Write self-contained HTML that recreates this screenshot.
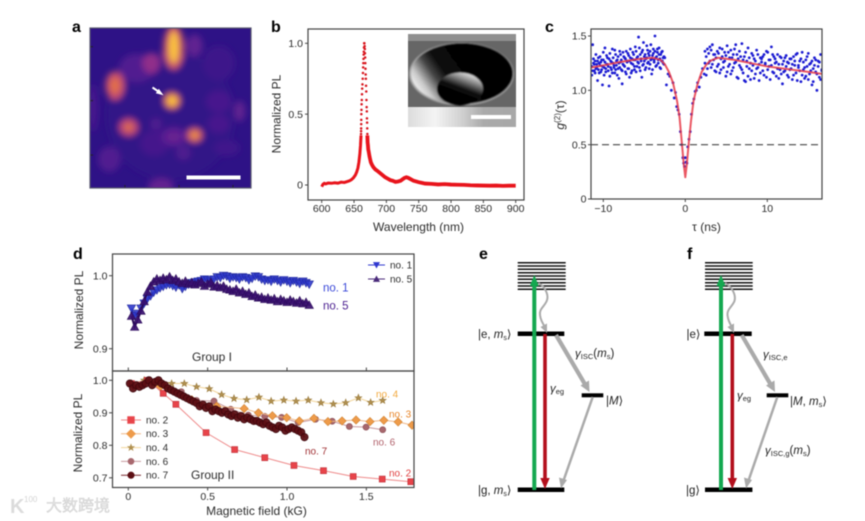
<!DOCTYPE html>
<html lang="en">
<head>
<meta charset="utf-8">
<title>Figure</title>
<style>
html,body{margin:0;padding:0;background:#fff;width:865px;height:521px;overflow:hidden}
svg{display:block;filter:blur(0.45px)}
text{font-family:"Liberation Sans","Noto Sans CJK SC",sans-serif;fill:#2c2c2c}
.tick{font-size:10.5px}
.title{font-size:12px}
.letter{font-size:16px;font-weight:bold;fill:#000}
.lvl{font-size:11.5px;fill:#222}
.it{font-style:italic}
.frame{fill:none;stroke:#444;stroke-width:1.2}
</style>
</head>
<body>
<svg id="figure" xmlns="http://www.w3.org/2000/svg" width="865" height="521" viewBox="0 0 865 521">
<defs>
<clipPath id="clipA"><rect x="90" y="28" width="161" height="160"/></clipPath>
<clipPath id="clipC"><rect x="591" y="29" width="231" height="170"/></clipPath>
<clipPath id="clipD"><rect x="112" y="254" width="302" height="233"/></clipPath>
<clipPath id="clipInset"><rect x="408" y="34" width="108" height="93"/></clipPath>
<filter id="heatBlur" x="-50%" y="-50%" width="200%" height="200%"><feGaussianBlur stdDeviation="3.2"/></filter>
<filter id="insetBlur" x="-20%" y="-20%" width="140%" height="140%"><feGaussianBlur stdDeviation="0.9"/></filter>
<linearGradient id="holeGrad" x1="0" y1="0.72" x2="1" y2="0.3">
<stop offset="0" stop-color="#ffffff"/><stop offset="0.12" stop-color="#c8c8c8"/><stop offset="0.26" stop-color="#454545"/><stop offset="0.38" stop-color="#080808"/><stop offset="1" stop-color="#000"/>
</linearGradient>
<linearGradient id="domeGrad" x1="0.72" y1="0" x2="0.4" y2="0.62">
<stop offset="0" stop-color="#f0f0f0"/><stop offset="0.35" stop-color="#8a8a8a"/><stop offset="0.75" stop-color="#0c0c0c"/><stop offset="1" stop-color="#030303"/>
</linearGradient>
<linearGradient id="stripGrad" x1="0" y1="0" x2="1" y2="0">
<stop offset="0" stop-color="#dcdcdc"/><stop offset="0.25" stop-color="#f4f4f4"/><stop offset="0.5" stop-color="#d0d0d0"/><stop offset="0.7" stop-color="#aaa"/><stop offset="1" stop-color="#a8a8a8"/>
</linearGradient>
</defs>

<!-- Panel letters -->
<text class="letter" x="72" y="32">a</text>
<text class="letter" x="271" y="32">b</text>
<text class="letter" x="545" y="32">c</text>
<text class="letter" x="73" y="259">d</text>
<text class="letter" x="479" y="259">e</text>
<text class="letter" x="687" y="259">f</text>

<!-- Panel a -->
<g>
<rect x="90" y="28" width="161" height="160" fill="#2e1286"/>
<g id="heatLayer" clip-path="url(#clipA)" filter="url(#heatBlur)"></g>
<g id="heatTicks"></g>
<rect class="frame" x="90" y="28" width="161" height="160" style="stroke:#5a5a70"/>
<line x1="152.5" y1="87.5" x2="160" y2="92.6" stroke="#fff" stroke-width="2"/>
<polygon points="163.5,95.3 155.8,93.2 158.8,88.8" fill="#fff"/>
<rect x="186.5" y="175.5" width="54" height="4" fill="#fff"/>
</g>

<!-- Panel b -->
<g>
<rect class="frame" x="308" y="29" width="216" height="171"/>
<g id="specAxes"></g>
<g id="specMarks"></g>
<g clip-path="url(#clipInset)">
<rect x="408" y="34" width="108" height="93" fill="#666"/>
<rect x="408" y="34" width="108" height="7" fill="#909090"/>
<g filter="url(#insetBlur)">
<ellipse cx="461.5" cy="74" rx="52.5" ry="31.5" fill="#a8a8a8"/>
<ellipse cx="462" cy="73.5" rx="51" ry="30.5" fill="url(#holeGrad)"/>
<ellipse cx="460" cy="89" rx="23" ry="16.5" fill="url(#domeGrad)"/>
</g>
<rect x="408" y="107" width="108" height="20" fill="url(#stripGrad)"/>
<rect x="471" y="115" width="40" height="4" fill="#fff"/>
</g>
<text class="title" x="418.5" y="231" text-anchor="middle">Wavelength (nm)</text>
<text class="title" text-anchor="middle" transform="translate(280.5,114) rotate(-90)">Normalized PL</text>
</g>

<!-- Panel c -->
<g>
<g id="g2Marks" clip-path="url(#clipC)"></g>
<rect class="frame" x="591" y="29" width="231" height="170"/>
<g id="g2Axes"></g>
<text class="title" x="706.5" y="231" text-anchor="middle">τ (ns)</text>
<text class="title" text-anchor="middle" transform="translate(564,115) rotate(-90)"><tspan class="it">g</tspan><tspan font-size="8" dy="-4">(2)</tspan><tspan dy="4">(τ)</tspan></text>
</g>

<!-- Panel d -->
<g>
<g id="fieldMarks" clip-path="url(#clipD)"></g>
<rect class="frame" x="112.5" y="254" width="301.5" height="117"/>
<rect class="frame" x="112.5" y="371" width="301.5" height="116.5"/>
<g id="fieldAxes"></g>
<text class="title" text-anchor="middle" transform="translate(83,310) rotate(-90)">Normalized PL</text>
<text class="title" text-anchor="middle" transform="translate(82,433) rotate(-90)">Normalized PL</text>
<text class="title" x="256.5" y="515" text-anchor="middle">Magnetic field (kG)</text>
<text x="192" y="361" font-size="12">Group I</text>
<text x="191" y="479" font-size="12">Group II</text>
<text x="323" y="291.5" font-size="11.5" style="fill:#3a48d8">no. 1</text>
<text x="323" y="309.5" font-size="11.5" style="fill:#4b1f90">no. 5</text>
<text x="376" y="397.5" font-size="10" style="fill:#f2a83c">no. 4</text>
<text x="389" y="417.5" font-size="10" style="fill:#e8862a">no. 3</text>
<text x="373" y="445.5" font-size="10" style="fill:#b0606a">no. 6</text>
<text x="305" y="454.5" font-size="10" style="fill:#a03034">no. 7</text>
<text x="389" y="476.5" font-size="10" style="fill:#e04040">no. 2</text>
<g id="fieldLegend"></g>
</g>

<!-- Panel e -->
<g>
<g stroke="#111" stroke-width="1.5">
<line x1="517.7" x2="565.7" y1="262.7" y2="262.7"/><line x1="517.7" x2="565.7" y1="266" y2="266"/><line x1="517.7" x2="565.7" y1="269.3" y2="269.3"/><line x1="517.7" x2="565.7" y1="272.7" y2="272.7"/><line x1="517.7" x2="565.7" y1="276" y2="276"/><line x1="517.7" x2="565.7" y1="279.3" y2="279.3"/><line x1="517.7" x2="565.7" y1="282.7" y2="282.7"/><line x1="517.7" x2="565.7" y1="286" y2="286"/><line x1="517.7" x2="565.7" y1="289.3" y2="289.3"/>
</g>
<rect x="517.7" y="331.5" width="46.6" height="4.5" fill="#000"/>
<rect x="517.7" y="487.5" width="46.6" height="4.5" fill="#000"/>
<rect x="581.7" y="393.3" width="21.6" height="4" fill="#000"/>
<line x1="534.3" y1="490" x2="534.3" y2="284" stroke="#14a850" stroke-width="4"/>
<polygon points="534.3,275 529.8,286 538.8,286" fill="#14a850"/>
<line x1="545" y1="334" x2="545" y2="480" stroke="#b30f1c" stroke-width="3.6"/>
<polygon points="545,489 540.3,478 549.7,478" fill="#b30f1c"/>
<path d="M538.3,283 C546,287 549,296 546.7,301 C544,307 539,309 540,315 C540.5,320 543,324 545,327" fill="none" stroke="#aaa" stroke-width="2"/>
<polygon points="547,333 540.5,327 547,323.5" fill="#aaa"/>
<line x1="556" y1="335" x2="586" y2="386" stroke="#aaa" stroke-width="4.2"/>
<polygon points="589.5,392 580.5,385.5 589,380.5" fill="#aaa"/>
<line x1="592.7" y1="397" x2="563" y2="482" stroke="#aaa" stroke-width="2.5"/>
<polygon points="561,488.5 559,477.5 567,480" fill="#aaa"/>
<text class="lvl" x="478" y="338">|e, <tspan class="it">m</tspan><tspan font-size="7" dy="2">s</tspan><tspan dy="-2">⟩</tspan></text>
<text class="lvl" x="478" y="494">|g, <tspan class="it">m</tspan><tspan font-size="7" dy="2">s</tspan><tspan dy="-2">⟩</tspan></text>
<text class="lvl" x="606" y="404.5">|<tspan class="it">M</tspan>⟩</text>
<text class="lvl" x="575" y="357"><tspan class="it">γ</tspan><tspan font-size="7.5" dy="2">ISC</tspan><tspan dy="-2">(</tspan><tspan class="it">m</tspan><tspan font-size="7.5" dy="2">s</tspan><tspan dy="-2">)</tspan></text>
<text class="lvl" x="550" y="392"><tspan class="it">γ</tspan><tspan font-size="7.5" dy="2">eg</tspan></text>
</g>

<!-- Panel f -->
<g>
<g stroke="#111" stroke-width="1.5">
<line x1="705" x2="752.7" y1="262.7" y2="262.7"/><line x1="705" x2="752.7" y1="266" y2="266"/><line x1="705" x2="752.7" y1="269.3" y2="269.3"/><line x1="705" x2="752.7" y1="272.7" y2="272.7"/><line x1="705" x2="752.7" y1="276" y2="276"/><line x1="705" x2="752.7" y1="279.3" y2="279.3"/><line x1="705" x2="752.7" y1="282.7" y2="282.7"/><line x1="705" x2="752.7" y1="286" y2="286"/><line x1="705" x2="752.7" y1="289.3" y2="289.3"/>
</g>
<rect x="704.3" y="331.5" width="47.4" height="4.5" fill="#000"/>
<rect x="705" y="487.5" width="47.4" height="4.5" fill="#000"/>
<rect x="766.7" y="393.3" width="21.6" height="4" fill="#000"/>
<line x1="721" y1="490" x2="721" y2="284" stroke="#14a850" stroke-width="4"/>
<polygon points="721,275 716.5,286 725.5,286" fill="#14a850"/>
<line x1="732.3" y1="334" x2="732.3" y2="480" stroke="#b30f1c" stroke-width="3.6"/>
<polygon points="732.3,489 727.6,478 737,478" fill="#b30f1c"/>
<path d="M725,283 C733,287 736,296 734.5,301 C732,307 727,309 727.5,315 C728,320 730,324 732,327" fill="none" stroke="#aaa" stroke-width="2"/>
<polygon points="734,333 727.5,327 734,323.5" fill="#aaa"/>
<line x1="741.7" y1="335" x2="771.5" y2="386" stroke="#aaa" stroke-width="4.2"/>
<polygon points="775,392 766,385.5 774.5,380.5" fill="#aaa"/>
<line x1="777.3" y1="397" x2="748" y2="482" stroke="#aaa" stroke-width="2.5"/>
<polygon points="746,488.5 744,477.5 752,480" fill="#aaa"/>
<text class="lvl" x="686.5" y="338">|e⟩</text>
<text class="lvl" x="686" y="494">|g⟩</text>
<text class="lvl" x="790" y="405"><tspan>|</tspan><tspan class="it">M</tspan>, <tspan class="it">m</tspan><tspan font-size="7.5" dy="2">s</tspan><tspan dy="-2">⟩</tspan></text>
<text class="lvl" x="763" y="358"><tspan class="it">γ</tspan><tspan font-size="7.5" dy="2">ISC,e</tspan></text>
<text class="lvl" x="737" y="399"><tspan class="it">γ</tspan><tspan font-size="7.5" dy="2">eg</tspan></text>
<text class="lvl" x="765" y="454"><tspan class="it">γ</tspan><tspan font-size="7.5" dy="2">ISC,g</tspan><tspan dy="-2">(</tspan><tspan class="it">m</tspan><tspan font-size="7.5" dy="2">s</tspan><tspan dy="-2">)</tspan></text>
</g>

<!-- Watermark -->
<g>
<text x="10" y="513" font-size="20" font-weight="bold" style="fill:#dcdcdc">K</text>
<text x="24" y="502" font-size="8" style="fill:#d4d4d4">100</text>
<text x="46" y="511" font-size="16" style="fill:#e2e2e2;stroke:#c4c4c4;stroke-width:0.3">大数跨境</text>
</g>

<script>
// ---------- Panel a values (scan coordinates in % of the field, levels 0..1) ----------
const blobX = [50,80,40,85,2,80,29,80,65,38,15.5,15.5,52,52,93,12,58,41,44,24,24,65,65,51,51,52,52];
const blobY = [55,22,72,75,50,46,25,60,11,22,36,36,68,68,52,82,78,60,99,62,62,67,67,45.5,45.5,12,12];
const blobRx = [40,10,9,8,3,8,11,7,5,5.5,6,3,8,4,3.5,7,4.5,3.5,8,6,2.5,5,2.2,5,2.8,6.5,3.2];
const blobRy = [40,11,8,5,15,7,9,6,7,6.5,9,5,6,3,6.5,8,4.5,3.5,5,5.5,2.2,4.5,2.2,5,2.8,14,10];
const blobLevel = [0.03,0.08,0.13,0.1,0.14,0.14,0.2,0.14,0.27,0.42,0.58,0.72,0.25,0.3,0.27,0.2,0.19,0.2,0.28,0.55,0.74,0.62,0.85,0.72,0.96,0.62,0.94];
const mapTicksX = [21.7,55.3,88.8];
const mapTicksY = [11.7,45.4,79.4];

// ---------- Panel b values ----------
const wavelengthTicks = [600,650,700,750,800,850,900];
const plTicks = [0,0.5,1];
const plTickLabels = ["0","0.5","1.0"];
const leftWl = [600,602,604,606,610,615,620,625,630,635,640,643,646,649,652,654,656,657.5,659,660,660.8];
const leftPl = [-0.012,0.005,0.012,0.008,0.014,0.012,0.016,0.013,0.02,0.018,0.025,0.03,0.038,0.05,0.07,0.09,0.12,0.16,0.22,0.28,0.35];
const rightWl = [670.6,671,671.5,672,672.5,674,675,676,678,680,683,686,690,694,698,702,706,710,714,718,722,725,728,731,734,738,742,746,750,755,760,770,780,790,800,810,820,830,840,850,860,870,880,890,900];
const rightPl = [0.35,0.3,0.28,0.25,0.24,0.2,0.18,0.16,0.14,0.125,0.11,0.1,0.085,0.07,0.055,0.045,0.035,0.03,0.022,0.025,0.03,0.04,0.05,0.055,0.05,0.04,0.03,0.025,0.02,0.015,0.01,0.008,0.004,0.006,0.003,0.002,0.001,-0.002,-0.003,-0.004,-0.005,-0.004,-0.006,-0.005,-0.005];
const peakWl = [660.8,660.9,661,661.1,661.2,661.3,661.5,661.7,662,662.3,662.6,663,663.4,663.8,664.1,664.4,664.6,664.9,665.1,665.4,665.7,666,666.4,666.7,666.9,667.2,667.4,667.7,668,668.3,668.6,668.9,669.2,669.5,669.8,670,670.2,670.4,670.6];
const peakPl = [0.36,0.38,0.4,0.43,0.46,0.5,0.53,0.57,0.6,0.64,0.68,0.71,0.75,0.79,0.83,0.86,0.89,0.92,0.94,0.97,1,1,0.98,0.96,0.93,0.9,0.86,0.82,0.78,0.75,0.7,0.66,0.6,0.55,0.52,0.47,0.44,0.4,0.36];

// ---------- Panel c values ----------
const tauTicks = [-10,0,10];
const tauTickLabels = ["−10","0","10"];
const g2Ticks = [0,0.5,1,1.5];
const g2TickLabels = ["0","0.5","1.0","1.5"];
const tauLeft = [-11.4,-11.3,-11.2,-11.1,-11,-10.9,-10.8,-10.7,-10.6,-10.5,
-10.4,-10.3,-10.2,-10.1,-10,-9.9,-9.8,-9.7,-9.6,-9.5,
-9.4,-9.3,-9.2,-9.1,-9,-8.9,-8.8,-8.7,-8.6,-8.5,
-8.4,-8.3,-8.2,-8.1,-8,-7.9,-7.8,-7.7,-7.6,-7.5,
-7.4,-7.3,-7.2,-7.1,-7,-6.9,-6.8,-6.7,-6.6,-6.5,
-6.4,-6.3,-6.2,-6.1,-6,-5.9,-5.8,-5.7,-5.6,-5.5,
-5.4,-5.3,-5.2,-5.1,-5,-4.9,-4.8,-4.7,-4.6,-4.5,
-4.4,-4.3,-4.2,-4.1,-4,-3.9,-3.8,-3.7,-3.6,-3.5,
-3.4,-3.3,-3.2,-3.1,-3,-2.9,-2.8,-2.7,-2.6];
const gLeftA = [1.14,1.42,1.25,1.18,1.27,1.20,1.24,1.09,1.30,1.16,
1.23,1.26,1.19,1.05,1.28,1.21,1.39,1.17,1.24,1.30,
1.22,1.04,1.13,1.27,1.19,1.38,1.25,1.21,1.16,1.33,
1.23,1.28,1.20,1.11,1.36,1.26,1.19,1.06,1.24,1.31,
1.22,1.29,1.15,1.27,1.34,1.20,1.12,1.30,1.25,1.18,
1.35,1.28,1.22,1.40,1.17,1.30,1.26,1.49,1.21,1.33,
1.27,1.12,1.37,1.24,1.31,1.19,1.29,1.41,1.25,1.34,
1.20,1.36,1.28,1.15,1.32,1.38,1.26,1.50,1.30,1.23,
1.35,1.28,1.39,1.21,1.33,1.27,1.36,1.25,1.31];
const gLeftB = [1.22,1.18,1.29,1.24,1.16,1.33,1.21,1.27,1.19,1.25,
1.31,1.17,1.28,1.22,1.35,1.14,1.26,1.20,1.32,1.24,
1.18,1.29,1.34,1.21,1.26,1.16,1.30,1.23,1.37,1.19,
1.27,1.14,1.31,1.25,1.21,1.33,1.28,1.18,1.35,1.23,
1.30,1.17,1.36,1.26,1.20,1.32,1.27,1.38,1.16,1.29,
1.24,1.33,1.19,1.28,1.36,1.22,1.31,1.25,1.39,1.18,
1.29,1.35,1.23,1.44,1.27,1.33,1.21,1.30,1.37,1.26,
1.32,1.24,1.42,1.29,1.19,1.34,1.28,1.36,1.22,1.31,
1.38,1.25,1.33,1.29,1.20,1.35,1.27,1.30,1.24];
const tauDip = [-2.5,-2.3,-2.1,-1.9,-1.7,-1.5,-1.35,-1.2,-1.05,-0.9,-0.75,-0.6,-0.45,-0.3,-0.2,-0.1,0,0.1,0.2,0.3,0.45,0.6,0.75,0.9,1.05,1.2,1.35,1.5,1.7,1.9,2.1,2.3];
const gDip = [1.3,1.05,1.15,1.13,1.0,1.07,0.93,0.98,0.85,0.82,0.78,0.62,0.5,0.38,0.33,0.3,0.38,0.34,0.33,0.48,0.55,0.62,0.78,0.88,0.92,0.99,1.0,1.07,1.03,1.12,1.2,1.15];
const tauRight = [2.4,2.55,2.7,2.85,3,3.15,3.3,3.45,3.6,3.75,
3.9,4.05,4.2,4.35,4.5,4.65,4.8,4.95,5.1,5.25,
5.4,5.55,5.7,5.85,6,6.15,6.3,6.45,6.6,6.75,
6.9,7.05,7.2,7.35,7.5,7.65,7.8,7.95,8.1,8.25,
8.4,8.55,8.7,8.85,9,9.15,9.3,9.45,9.6,9.75,
9.9,10.05,10.2,10.35,10.5,10.65,10.8,10.95,11.1,11.25,
11.4,11.55,11.7,11.85,12,12.15,12.3,12.45,12.6,12.75,
12.9,13.05,13.2,13.35,13.5,13.65,13.8,13.95,14.1,14.25,
14.4,14.55,14.7,14.85,15,15.15,15.3,15.45,15.6,15.75,
15.9,16.05,16.2,16.35,16.5,16.65,16.8];
const gRightA = [1.36,1.14,1.38,1.25,1.40,1.21,1.42,1.28,1.33,1.17,
1.36,1.24,1.39,1.19,1.31,1.26,1.35,1.13,1.41,1.22,
1.30,1.37,1.18,1.33,1.25,1.42,1.12,1.29,1.36,1.21,
1.43,1.16,1.31,1.08,1.27,1.39,1.20,1.10,1.34,1.23,
1.29,1.15,1.37,1.21,1.09,1.30,1.26,1.18,1.33,1.24,
1.12,1.35,1.22,1.28,1.40,1.17,1.31,1.25,1.13,1.33,
1.24,1.19,1.30,1.06,1.27,1.18,1.32,1.14,1.25,1.29,
1.20,1.10,1.31,1.23,1.16,1.34,1.21,1.27,1.08,1.35,
1.19,1.11,1.28,1.22,1.34,1.15,1.25,1.05,1.20,1.30,
1.17,1.00,1.27,1.12,1.33,1.18,1.21];
const gRightB = [1.25,1.31,1.20,1.34,1.27,1.37,1.24,1.33,1.18,1.30,
1.22,1.34,1.16,1.29,1.38,1.21,1.27,1.32,1.17,1.35,
1.24,1.15,1.30,1.21,1.38,1.26,1.33,1.11,1.23,1.31,
1.19,1.28,1.09,1.35,1.22,1.13,1.30,1.25,1.18,1.32,
1.11,1.27,1.20,1.33,1.24,1.16,1.29,1.31,1.14,1.25,
1.36,1.19,1.28,1.10,1.23,1.33,1.16,1.29,1.26,1.20,
1.11,1.31,1.15,1.24,1.17,1.30,1.22,1.26,1.12,1.19,
1.29,1.24,1.14,1.27,1.33,1.09,1.23,1.18,1.29,1.14,
1.26,1.21,1.13,1.31,1.10,1.24,1.18,1.27,1.08,1.23,
1.28,1.15,1.22,1.26,1.10,1.19,1.14];
const tauFit = [-11.5,-10,-8,-6,-4,-3,-2.5,-2,-1.5,-1,-0.7,-0.4,-0.2,0,0.2,0.4,0.7,1,1.5,2,2.5,3,4,6,8,10,12,14,16.8];
const gFit = [1.21,1.23,1.26,1.285,1.3,1.28,1.24,1.17,1.07,0.9,0.75,0.5,0.33,0.2,0.33,0.5,0.72,0.9,1.06,1.17,1.23,1.27,1.3,1.28,1.25,1.22,1.2,1.18,1.15];
const halfLevel = [0.5];

// ---------- Panel d values ----------
const fieldTicks = [0,0.5,1,1.5];
const fieldTickLabels = ["0","0.5","1.0","1.5"];
const group1Ticks = [0.9,1];
const group2Ticks = [0.7,0.8,0.9,1];
const field1 = [0.02,0.04,0.06,0.08,0.10,0.12,0.14,0.16,0.18,0.20,
0.22,0.24,0.26,0.28,0.30,0.32,0.34,0.36,0.38,0.40,
0.42,0.44,0.46,0.48,0.50,0.52,0.54,0.56,0.58,0.60,
0.62,0.64,0.66,0.68,0.70,0.72,0.74,0.76,0.78,0.80,
0.82,0.84,0.86,0.88,0.90,0.92,0.94,0.96,0.98,1.00,
1.02,1.04,1.06,1.08,1.10,1.12,1.14];
const no1 = [0.955,0.945,0.948,0.955,0.962,0.968,0.972,0.977,0.980,0.983,
0.985,0.987,0.988,0.986,0.984,0.987,0.982,0.985,0.988,0.990,
0.991,0.992,0.993,0.995,0.994,0.992,0.995,0.998,0.997,1.0,
0.999,0.996,0.998,0.997,0.995,0.998,0.997,0.994,0.996,0.999,
0.998,0.995,0.993,0.994,0.992,0.995,0.993,0.991,0.994,0.992,
0.990,0.993,0.991,0.989,0.992,0.990,0.988];
const no5 = [0.945,0.930,0.940,0.952,0.965,0.978,0.986,0.992,0.996,0.994,
0.997,0.995,0.999,0.994,0.996,0.992,0.990,0.993,0.989,0.991,
0.988,0.990,0.992,0.986,0.989,0.991,0.985,0.987,0.984,0.986,
0.982,0.981,0.979,0.982,0.977,0.979,0.975,0.977,0.972,0.974,
0.970,0.971,0.968,0.970,0.967,0.969,0.965,0.968,0.966,0.964,
0.967,0.965,0.963,0.966,0.962,0.964,0.960];
const field2 = [0.02,0.12,0.22,0.30,0.49,0.67,0.86,1.044,1.23,1.417,1.60,1.78];
const no2 = [0.99,1.0,0.96,0.926,0.839,0.787,0.762,0.738,0.722,0.704,0.696,0.688];
const field3 = [0.2,0.4,0.557,0.73,0.82,0.908,0.998,1.078,1.17,1.258,1.347,1.435,1.523,1.61,1.70,1.788];
const no3 = [0.98,0.94,0.92,0.913,0.90,0.891,0.885,0.875,0.883,0.873,0.875,0.878,0.873,0.877,0.872,0.862];
const field4 = [0.02,0.10,0.19,0.273,0.353,0.43,0.51,0.588,0.666,0.746,0.823,0.90,0.98,1.057,1.134,1.214,1.292,1.37,1.45,1.527,1.603];
const no4 = [0.99,1.0,0.999,0.99,0.99,0.98,0.974,0.956,0.944,0.94,0.948,0.936,0.939,0.936,0.939,0.931,0.927,0.931,0.946,0.932,0.938];
const field6 = [0.02,0.12,0.22,0.334,0.43,0.54,0.645,0.756,0.86,0.966,1.07,1.18,1.285,1.393,1.498,1.603];
const no6 = [0.99,1.0,0.985,0.965,0.938,0.936,0.911,0.893,0.889,0.886,0.87,0.88,0.874,0.858,0.856,0.848];
const field7 = [0.01,0.03,0.05,0.07,0.09,0.11,0.13,0.15,0.17,0.19,
0.21,0.23,0.25,0.27,0.29,0.31,0.33,0.35,0.37,0.39,
0.41,0.43,0.45,0.47,0.49,0.51,0.53,0.55,0.57,0.59,
0.61,0.63,0.65,0.67,0.69,0.71,0.73,0.75,0.77,0.79,
0.81,0.83,0.85,0.87,0.89,0.91,0.93,0.95,0.97,0.99,
1.01,1.03,1.05,1.07,1.09,1.11];
const no7 = [0.99,0.975,0.985,0.98,0.985,0.99,1.0,0.985,0.995,1.0,
0.99,0.985,0.975,0.97,0.965,0.96,0.955,0.95,0.945,0.94,
0.935,0.93,0.92,0.925,0.915,0.92,0.905,0.91,0.905,0.90,
0.905,0.895,0.89,0.895,0.885,0.89,0.88,0.885,0.88,0.875,
0.875,0.87,0.865,0.87,0.86,0.855,0.85,0.86,0.855,0.845,
0.85,0.855,0.85,0.845,0.84,0.825];
const legendNames1 = ["no. 1","no. 5"];
const legendNames2 = ["no. 2","no. 3","no. 4","no. 6","no. 7"];

// ---------- Axis functions ----------
const mapX = v => 90 + v * 1.61;
const mapY = v => 28 + v * 1.60;
const specX = v => 321.7 + (v - 600) * (194 / 300);
const specY = v => 185 - v * 141.7;
const tauX = v => 685.3 + v * 8.2;
const g2Y = v => 199 - v * (163 / 1.5);
const fieldX = v => 128.3 + v * 158.7;
const group1Y = v => 275.7 + (1 - v) * 730;
const group2Y = v => 380.3 + (1 - v) * 325;

// ---------- Drawing helpers ----------
const NS = 'http://www.w3.org/2000/svg';
function mk(parent, tag, attrs, txt) {
  const el = document.createElementNS(NS, tag);
  for (const k in attrs) el.setAttribute(k, attrs[k]);
  if (txt !== undefined) el.textContent = txt;
  parent.appendChild(el);
  return el;
}
function ptsOf(xs, ys, fx, fy) {
  return xs.map((x, i) => fx(x).toFixed(2) + ',' + fy(ys[i]).toFixed(2)).join(' ');
}
function colormap(t) {
  const stops = [[0,46,18,134],[0.25,90,30,146],[0.45,154,48,136],[0.6,200,80,108],[0.75,232,120,62],[0.9,248,172,48],[1,253,224,80]];
  for (let i = 1; i < stops.length; i++) {
    if (t <= stops[i][0]) {
      const a = stops[i-1], b = stops[i], f = (t - a[0]) / (b[0] - a[0]);
      return 'rgb(' + [1,2,3].map(k => Math.round(a[k] + (b[k] - a[k]) * f)).join(',') + ')';
    }
  }
  return 'rgb(253,224,80)';
}
function markerShape(parent, kind, cx, cy, s, fill, stroke, op) {
  let pts, el;
  if (kind === 'circle') {
    el = mk(parent, 'circle', {cx: cx, cy: cy, r: s, fill: fill, stroke: stroke, 'stroke-width': 0.7, 'fill-opacity': op});
    return el;
  }
  if (kind === 'square') {
    pts = [[-s,-s],[s,-s],[s,s],[-s,s]];
  } else if (kind === 'diamond') {
    pts = [[0,-s*1.25],[s*1.25,0],[0,s*1.25],[-s*1.25,0]];
  } else if (kind === 'down') {
    pts = [[-s,-s*0.85],[s,-s*0.85],[0,s*0.95]];
  } else if (kind === 'up') {
    pts = [[-s,s*0.85],[s,s*0.85],[0,-s*0.95]];
  } else {
    pts = [];
    for (let i = 0; i < 10; i++) {
      const a = -Math.PI / 2 + i * Math.PI / 5, r = i % 2 ? s * 0.42 : s;
      pts.push([r * Math.cos(a), r * Math.sin(a)]);
    }
  }
  el = mk(parent, 'polygon', {points: pts.map(p => (cx + p[0]).toFixed(2) + ',' + (cy + p[1]).toFixed(2)).join(' '), fill: fill, stroke: stroke, 'stroke-width': 0.6, 'fill-opacity': op});
  return el;
}

// ---------- Panel a ----------
const heatLayer = document.getElementById('heatLayer');
blobX.forEach((x, i) => {
  const el = mk(heatLayer, 'ellipse', {cx: mapX(x), cy: mapY(blobY[i]), rx: blobRx[i] * 1.61, ry: blobRy[i] * 1.6, fill: colormap(blobLevel[i])});
  
  
});
const heatTicks = document.getElementById('heatTicks');
mapTicksY.forEach(t => {
  const el = mk(heatTicks, 'line', {x1: 90, x2: 93, y1: mapY(t), y2: mapY(t), stroke: '#222', 'stroke-width': 1});
  
  
});
mapTicksX.forEach(t => {
  const el2 = mk(heatTicks, 'line', {x1: mapX(t), x2: mapX(t), y1: 185, y2: 188, stroke: '#222', 'stroke-width': 1});
  
  
});

// ---------- Panel b ----------
const specAxes = document.getElementById('specAxes');
wavelengthTicks.forEach(t => {
  const tick = mk(specAxes, 'line', {x1: specX(t), x2: specX(t), y1: 200, y2: 203, stroke: '#444', 'stroke-width': 1});
  
  
  const lab = mk(specAxes, 'text', {x: specX(t), y: 212, 'text-anchor': 'middle', class: 'tick'}, String(t));
  
  
});
plTicks.forEach((t, i) => {
  const tick = mk(specAxes, 'line', {x1: 305, x2: 308, y1: specY(t), y2: specY(t), stroke: '#444', 'stroke-width': 1});
  
  
  const lab = mk(specAxes, 'text', {x: 303, y: specY(t) + 3.7, 'text-anchor': 'end', class: 'tick'}, plTickLabels[i]);
  
  
});
const specMarks = document.getElementById('specMarks');
const specLeft = mk(specMarks, 'polyline', {points: ptsOf(leftWl, leftPl, specX, specY), fill: 'none', stroke: '#e8141c', 'stroke-width': 3});


const specRight = mk(specMarks, 'polyline', {points: ptsOf(rightWl, rightPl, specX, specY), fill: 'none', stroke: '#e8141c', 'stroke-width': 3.8});


peakWl.forEach((w, i) => {
  const el = mk(specMarks, 'circle', {cx: specX(w), cy: specY(peakPl[i]), r: 1.25, fill: '#d8141c'});
  
  
});

// ---------- Panel c ----------
const g2Marks = document.getElementById('g2Marks');
function drawG2(taus, gs) {
  taus.forEach((t, i) => {
    const el = mk(g2Marks, 'circle', {cx: tauX(t), cy: g2Y(gs[i]), r: 1.4, fill: '#1c1cd2'});
    
    
  });
}
drawG2(tauLeft, gLeftA);
drawG2(tauLeft, gLeftB);
drawG2(tauDip, gDip);
drawG2(tauRight, gRightA);
drawG2(tauRight, gRightB);
const fit = mk(g2Marks, 'polyline', {points: ptsOf(tauFit, gFit, tauX, g2Y), fill: 'none', stroke: '#e63a48', 'stroke-width': 2, 'stroke-opacity': 0.85, 'stroke-linejoin': 'round'});


const dash = mk(g2Marks, 'line', {x1: 591, x2: 822, y1: g2Y(halfLevel[0]), y2: g2Y(halfLevel[0]), stroke: '#444', 'stroke-width': 1.2, 'stroke-dasharray': '7 4'});


const g2Axes = document.getElementById('g2Axes');
tauTicks.forEach((t, i) => {
  const tick = mk(g2Axes, 'line', {x1: tauX(t), x2: tauX(t), y1: 199, y2: 202, stroke: '#444', 'stroke-width': 1});
  
  
  const lab = mk(g2Axes, 'text', {x: tauX(t), y: 212, 'text-anchor': 'middle', class: 'tick'}, tauTickLabels[i]);
  
  
});
g2Ticks.forEach((t, i) => {
  const tick = mk(g2Axes, 'line', {x1: 588, x2: 591, y1: g2Y(t), y2: g2Y(t), stroke: '#444', 'stroke-width': 1});
  
  
  const lab = mk(g2Axes, 'text', {x: 586.5, y: g2Y(t) + 3.7, 'text-anchor': 'end', class: 'tick'}, g2TickLabels[i]);
  
  
});

// ---------- Panel d ----------
const fieldAxes = document.getElementById('fieldAxes');
fieldTicks.forEach((t, i) => {
  const tickTop = mk(fieldAxes, 'line', {x1: fieldX(t), x2: fieldX(t), y1: 367.5, y2: 371, stroke: '#444', 'stroke-width': 1});
  
  
  const tick = mk(fieldAxes, 'line', {x1: fieldX(t), x2: fieldX(t), y1: 487.5, y2: 490.5, stroke: '#444', 'stroke-width': 1});
  
  
  const lab = mk(fieldAxes, 'text', {x: fieldX(t), y: 500, 'text-anchor': 'middle', class: 'tick'}, fieldTickLabels[i]);
  
  
});
group1Ticks.forEach(t => {
  const tick = mk(fieldAxes, 'line', {x1: 109, x2: 112.5, y1: group1Y(t), y2: group1Y(t), stroke: '#444', 'stroke-width': 1});
  
  
  const lab = mk(fieldAxes, 'text', {x: 107.5, y: group1Y(t) + 3.7, 'text-anchor': 'end', class: 'tick'}, t.toFixed(1));
  
  
});
group2Ticks.forEach(t => {
  const tick = mk(fieldAxes, 'line', {x1: 109, x2: 112.5, y1: group2Y(t), y2: group2Y(t), stroke: '#444', 'stroke-width': 1});
  
  
  const lab = mk(fieldAxes, 'text', {x: 107.5, y: group2Y(t) + 3.7, 'text-anchor': 'end', class: 'tick'}, t.toFixed(1));
  
  
});
const fieldMarks = document.getElementById('fieldMarks');
function drawSeries(xs, ys, fy, kind, size, fill, stroke, lineColor, op, name, lineWidth) {
  const line = mk(fieldMarks, 'polyline', {points: ptsOf(xs, ys, fieldX, fy), fill: 'none', stroke: lineColor, 'stroke-width': lineWidth});
  
  
  xs.forEach((x, i) => {
    const m = markerShape(fieldMarks, kind, fieldX(x), fy(ys[i]), size, fill, stroke, op);
    
    
  });
}
drawSeries(field1, no1, group1Y, 'down', 4.2, '#2f38cc', '#20289c', '#2a34c0', 0.9, 'no-1', 2);
drawSeries(field1, no5, group1Y, 'up', 4.2, '#3a1070', '#2a0a58', '#2a0a58', 0.92, 'no-5', 2);
drawSeries(field4, no4, group2Y, 'star', 3.6, '#b09050', '#9a7a3c', '#f2d59a', 1, 'no-4', 1);
drawSeries(field6, no6, group2Y, 'circle', 3, '#a8686e', '#8e5258', '#c89aa0', 1, 'no-6', 1);
drawSeries(field3, no3, group2Y, 'diamond', 3.3, '#ee9b4a', '#d0802e', '#f0b888', 1, 'no-3', 1);
drawSeries(field2, no2, group2Y, 'square', 3, '#e8444a', '#c0303a', '#ee8a8a', 1, 'no-2', 1);
drawSeries(field7, no7, group2Y, 'circle', 3.7, '#5c0f14', '#3c060c', '#5c0f14', 0.95, 'no-7', 2);

// Legends
const fieldLegend = document.getElementById('fieldLegend');
const legend1Kinds = ['down','up'];
const legend1Colors = ['#3038cf','#4a2a7a'];
legendNames1.forEach((n, i) => {
  const y = 265 + i * 14;
  const line = mk(fieldLegend, 'line', {x1: 368, x2: 385, y1: y, y2: y, stroke: legend1Colors[i], 'stroke-width': 1});
  
  
  const m = markerShape(fieldLegend, legend1Kinds[i], 376.5, y, 3, legend1Colors[i], legend1Colors[i], 1);
  
  
  const t = mk(fieldLegend, 'text', {x: 390, y: y + 3.3, 'font-size': 10}, n);
  
  
});
const legend2Kinds = ['square','diamond','star','circle','circle'];
const legend2Fills = ['#e8444a','#ee9b4a','#b09050','#a8686e','#5c0f14'];
const legend2Lines = ['#ee8a8a','#f0b888','#f2d59a','#c89aa0','#7a2a30'];
const legend2Sizes = [3.4,3.6,3.4,3,3.2];
legendNames2.forEach((n, i) => {
  const y = 420 + i * 13.8;
  const line = mk(fieldLegend, 'line', {x1: 121, x2: 141, y1: y, y2: y, stroke: legend2Lines[i], 'stroke-width': 1});
  
  
  const m = markerShape(fieldLegend, legend2Kinds[i], 131, y, legend2Sizes[i], legend2Fills[i], legend2Fills[i], 1);
  
  
  const t = mk(fieldLegend, 'text', {x: 146, y: y + 3.4, 'font-size': 10}, n);
  
  
});
</script>
</svg>
</body>
</html>
